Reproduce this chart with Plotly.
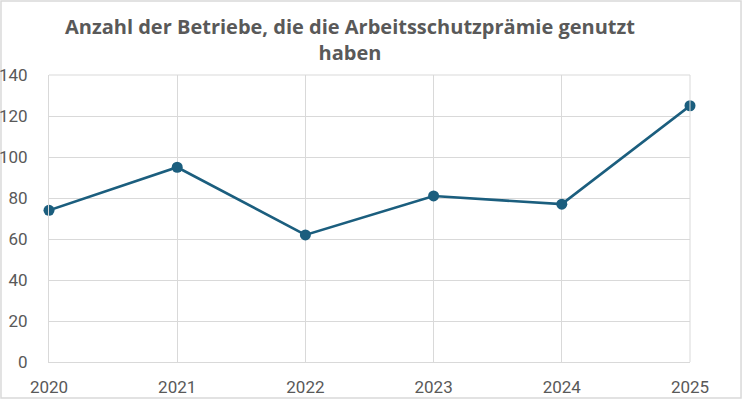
import plotly.graph_objects as go

years = [2020, 2021, 2022, 2023, 2024, 2025]
betriebe = [74, 95, 62, 81, 77, 125]

TITLE = "Anzahl der Betriebe, die die Arbeitsschutzprämie genutzt<br>haben"
LINE_COLOR = "#1b5e7e"
GRID = "#d9d9d9"
TEXT = "#595959"

fig = go.Figure()
fig.add_trace(go.Scatter(
    x=years, y=betriebe, mode="lines+markers",
    line=dict(color=LINE_COLOR, width=2.6),
    marker=dict(color=LINE_COLOR, size=11),
    showlegend=False, cliponaxis=False))

fig.update_xaxes(range=[2020, 2025], tickmode="array", tickvals=years,
                 ticktext=[str(y) for y in years], automargin=False,
                 showgrid=True, gridcolor=GRID, gridwidth=1,
                 showline=True, linecolor=GRID, mirror=False,
                 zeroline=False, ticks="", ticklabelstandoff=10,
                 tickfont=dict(size=17, color=TEXT))
fig.update_yaxes(range=[0, 140], dtick=20, showgrid=True, gridcolor=GRID,
                 gridwidth=1, showline=True, linecolor=GRID, zeroline=False,
                 ticks="", ticklabelstandoff=17, automargin=False,
                 tickfont=dict(size=17, color=TEXT))

# outer chart frame
fig.add_shape(type="rect", xref="paper", yref="paper",
              x0=-0.0749, x1=1.0796, y0=-0.1254, y1=1.2578,
              line=dict(color=GRID, width=1.5), fillcolor="rgba(0,0,0,0)",
              layer="below")
# right and top border of plot area
fig.add_shape(type="line", xref="paper", yref="paper", x0=1, x1=1, y0=0, y1=1,
              line=dict(color=GRID, width=1))
fig.add_shape(type="line", xref="paper", yref="paper", x0=0, x1=1, y0=1, y1=1,
              line=dict(color=GRID, width=1))

fig.update_layout(
    width=743, height=400,
    margin=dict(l=49, r=53, t=75, b=38),
    paper_bgcolor="white", plot_bgcolor="white",
    font=dict(family="Roboto, Arial, sans-serif", color=TEXT),
    title=dict(text="<b>" + TITLE + "</b>", x=0.471, xanchor="center",
               y=1 - 34 / 400, yanchor="middle", automargin=False,
               font=dict(size=20, color=TEXT, family="Open Sans, Arial, sans-serif")),
)

fig.write_html("out.html", config={"displayModeBar": False},
               post_script="document.body.style.margin='0';")
